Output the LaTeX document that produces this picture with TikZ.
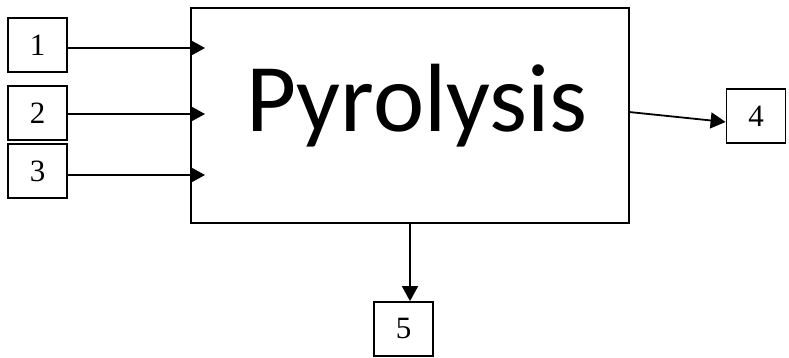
\documentclass[tikz,border=0pt]{standalone}
\usepackage{fontspec}
\setmainfont{Liberation Serif}
\newfontfamily\calibri{Carlito}
\usepackage{tikz}
\usetikzlibrary{arrows.meta,positioning,calc}

\tikzset{
  numbox/.style={draw,line width=1.8pt,minimum width=59pt,minimum height=54pt,inner sep=0pt,font=\fontsize{31}{31}\selectfont},
  flow/.style={line width=1.8pt,-{Triangle[length=15pt,width=16pt]}}
}

\begin{document}
\begin{tikzpicture}[x=1pt,y=1pt]
    \useasboundingbox (0,0) rectangle (789,358);

    \node [draw,line width=1.8pt,minimum width=438pt,minimum height=215pt] (pyro) at (410,242.5) {};
    \node [anchor=base,inner sep=0pt,font=\calibri\fontsize{97}{97}\selectfont] (pyrotext) at (417,226) {Pyrolysis};

    \node [numbox] (b1) at (37.5,313) {1};
    \node [numbox] (b2) at (37.5,245) {2};
    \node [numbox] (b3) at (37.5,187) {3};
    \node [numbox] (b4) at (756,242) {4};
    \node [numbox] (b5) at (403.5,29) {5};

    % arrow ends inside the big box
    \coordinate (in1) at (205,310);
    \coordinate (in2) at (205,244);
    \coordinate (in3) at (205,183);
    \coordinate (out4) at (629,246);

    \draw [flow] (b1.east |- in1) -- (in1);
    \draw [flow] (b2.east |- in2) -- (in2);
    \draw [flow] (b3.east |- in3) -- (in3);
    \draw [flow] (out4) -- ([yshift=-6pt]b4.west);
    \draw [flow] (pyro.south) -- (pyro.south |- b5.north);
\end{tikzpicture}
\end{document}
